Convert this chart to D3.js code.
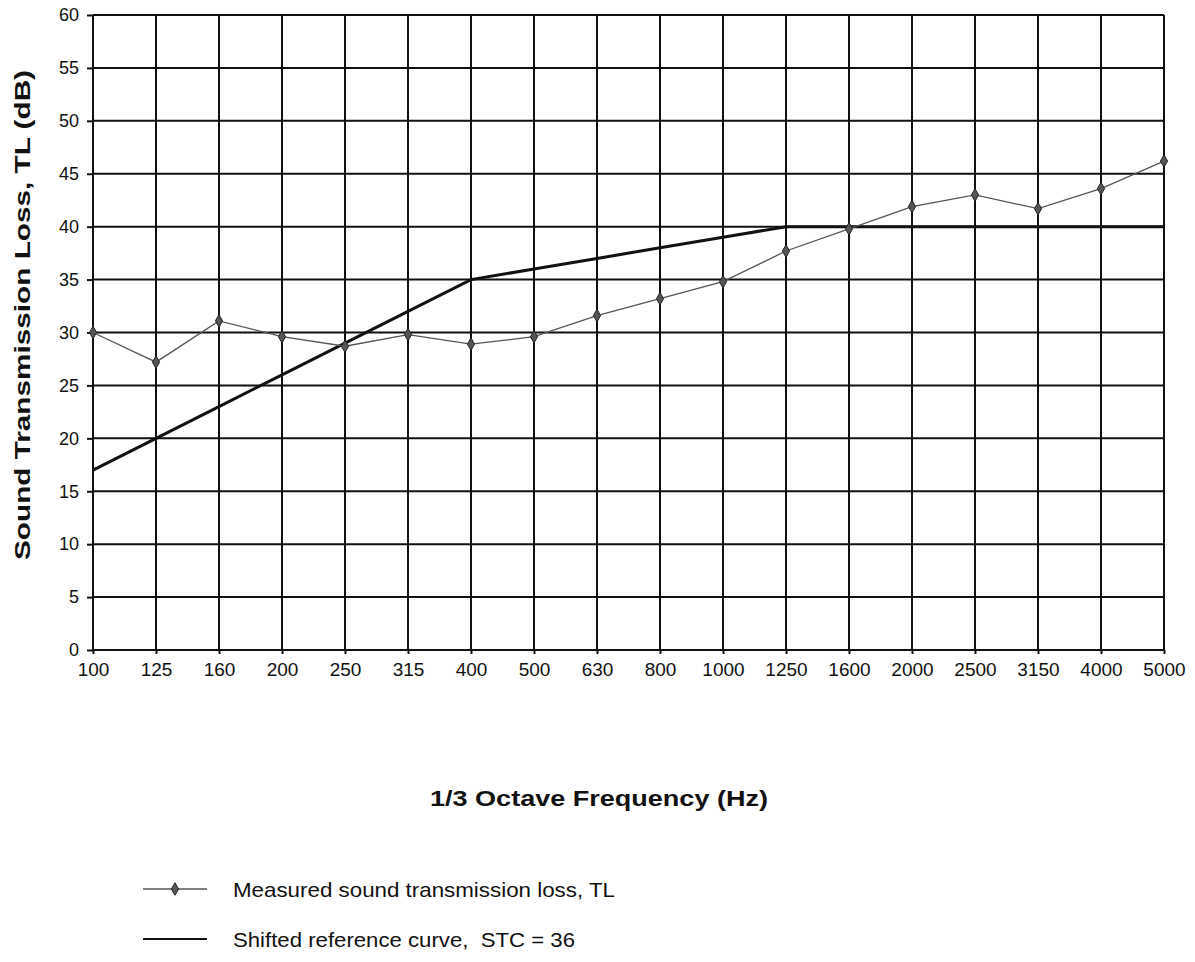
<!DOCTYPE html>
<html>
<head>
<meta charset="utf-8">
<script src="https://cdn.jsdelivr.net/npm/d3@7"></script>
<style>
  body { margin: 0; background: #fff; }
  text { font-family: Arial, "Liberation Sans", sans-serif; fill: #111; }
</style>
</head>
<body>
<svg id="chart" width="1195" height="962"></svg>
<script>
const frequencies = ['100', '125', '160', '200', '250', '315', '400', '500', '630', '800',
  '1000', '1250', '1600', '2000', '2500', '3150', '4000', '5000'];
const measuredTL = [30, 27.2, 31.1, 29.6, 28.7, 29.8, 28.9, 29.6, 31.6, 33.2,
  34.8, 37.7, 39.8, 41.9, 43, 41.7, 43.6, 46.2];
const referenceSTC36 = [17, 20, 23, 26, 29, 32, 35, 36, 37, 38,
  39, 40, 40, 40, 40, 40, 40, 40];
const yTicks = [0, 5, 10, 15, 20, 25, 30, 35, 40, 45, 50, 55, 60];

const svg = d3.select('#chart');
const margin = { left: 93, right: 31, top: 15, bottom: 312 };
const width = 1195 - margin.left - margin.right;
const height = 962 - margin.top - margin.bottom;

const g = svg.append('g')
  .attr('transform', `translate(${margin.left},${margin.top})`);

const x = d3.scalePoint()
  .domain(frequencies)
  .range([0, width]);

const y = d3.scaleLinear()
  .domain([0, 60])
  .range([height, 0]);

// grid
g.append('g')
  .selectAll('line')
  .data(yTicks)
  .join('line')
  .attr('x1', 0).attr('x2', width)
  .attr('y1', d => y(d)).attr('y2', d => y(d))
  .attr('stroke', '#111').attr('stroke-width', 2);

g.append('g')
  .selectAll('line')
  .data(frequencies)
  .join('line')
  .attr('x1', d => x(d)).attr('x2', d => x(d))
  .attr('y1', 0).attr('y2', height)
  .attr('stroke', '#111').attr('stroke-width', 2);

// axes
const yAxis = g.append('g')
  .call(d3.axisLeft(y).tickValues(yTicks).tickSize(6).tickPadding(8));
yAxis.select('.domain').remove();
yAxis.selectAll('line').attr('stroke', '#111').attr('stroke-width', 2);
yAxis.selectAll('text').style('font-size', '18px');

const xAxis = g.append('g')
  .attr('transform', `translate(0,${height})`)
  .call(d3.axisBottom(x).tickSize(4).tickPadding(9));
xAxis.select('.domain').remove();
xAxis.selectAll('line').attr('stroke', '#111').attr('stroke-width', 2);
xAxis.selectAll('text').style('font-size', '19px');

// reference curve
const line = d3.line()
  .x((d, i) => x(frequencies[i]))
  .y(d => y(d));

g.append('path')
  .datum(referenceSTC36)
  .attr('fill', 'none')
  .attr('stroke', '#111')
  .attr('stroke-width', 3)
  .attr('d', line);

// measured TL
g.append('path')
  .datum(measuredTL)
  .attr('fill', 'none')
  .attr('stroke', '#555')
  .attr('stroke-width', 1.3)
  .attr('d', line);

const diamond = d3.symbol().type(d3.symbolDiamond).size(45);
g.append('g')
  .selectAll('path')
  .data(measuredTL)
  .join('path')
  .attr('transform', (d, i) => `translate(${x(frequencies[i])},${y(d)})`)
  .attr('d', diamond)
  .attr('fill', '#555')
  .attr('stroke', '#222')
  .attr('stroke-width', 1);

// titles
svg.append('text')
  .attr('transform', 'translate(30,315) rotate(-90)')
  .attr('text-anchor', 'middle')
  .attr('textLength', 490)
  .attr('lengthAdjust', 'spacingAndGlyphs')
  .style('font-size', '22px')
  .style('font-weight', 'bold')
  .text('Sound Transmission Loss, TL (dB)');

svg.append('text')
  .attr('x', 599)
  .attr('y', 806)
  .attr('text-anchor', 'middle')
  .attr('textLength', 338)
  .attr('lengthAdjust', 'spacingAndGlyphs')
  .style('font-size', '22px')
  .style('font-weight', 'bold')
  .text('1/3 Octave Frequency (Hz)');

// legend
const legend = svg.append('g');
legend.append('line')
  .attr('x1', 143).attr('x2', 207).attr('y1', 889).attr('y2', 889)
  .attr('stroke', '#555').attr('stroke-width', 1.3);
legend.append('path')
  .attr('transform', 'translate(175,889)')
  .attr('d', diamond)
  .attr('fill', '#555').attr('stroke', '#222');
legend.append('text')
  .attr('x', 233).attr('y', 897)
  .attr('textLength', 382)
  .attr('lengthAdjust', 'spacingAndGlyphs')
  .style('font-size', '21px')
  .text('Measured sound transmission loss, TL');

legend.append('line')
  .attr('x1', 143).attr('x2', 207).attr('y1', 939).attr('y2', 939)
  .attr('stroke', '#111').attr('stroke-width', 2);
legend.append('text')
  .attr('x', 233).attr('y', 947)
  .attr('textLength', 342)
  .attr('lengthAdjust', 'spacingAndGlyphs')
  .style('font-size', '21px')
  .style('white-space', 'pre')
  .text('Shifted reference curve,  STC = 36');
</script>
</body>
</html>
